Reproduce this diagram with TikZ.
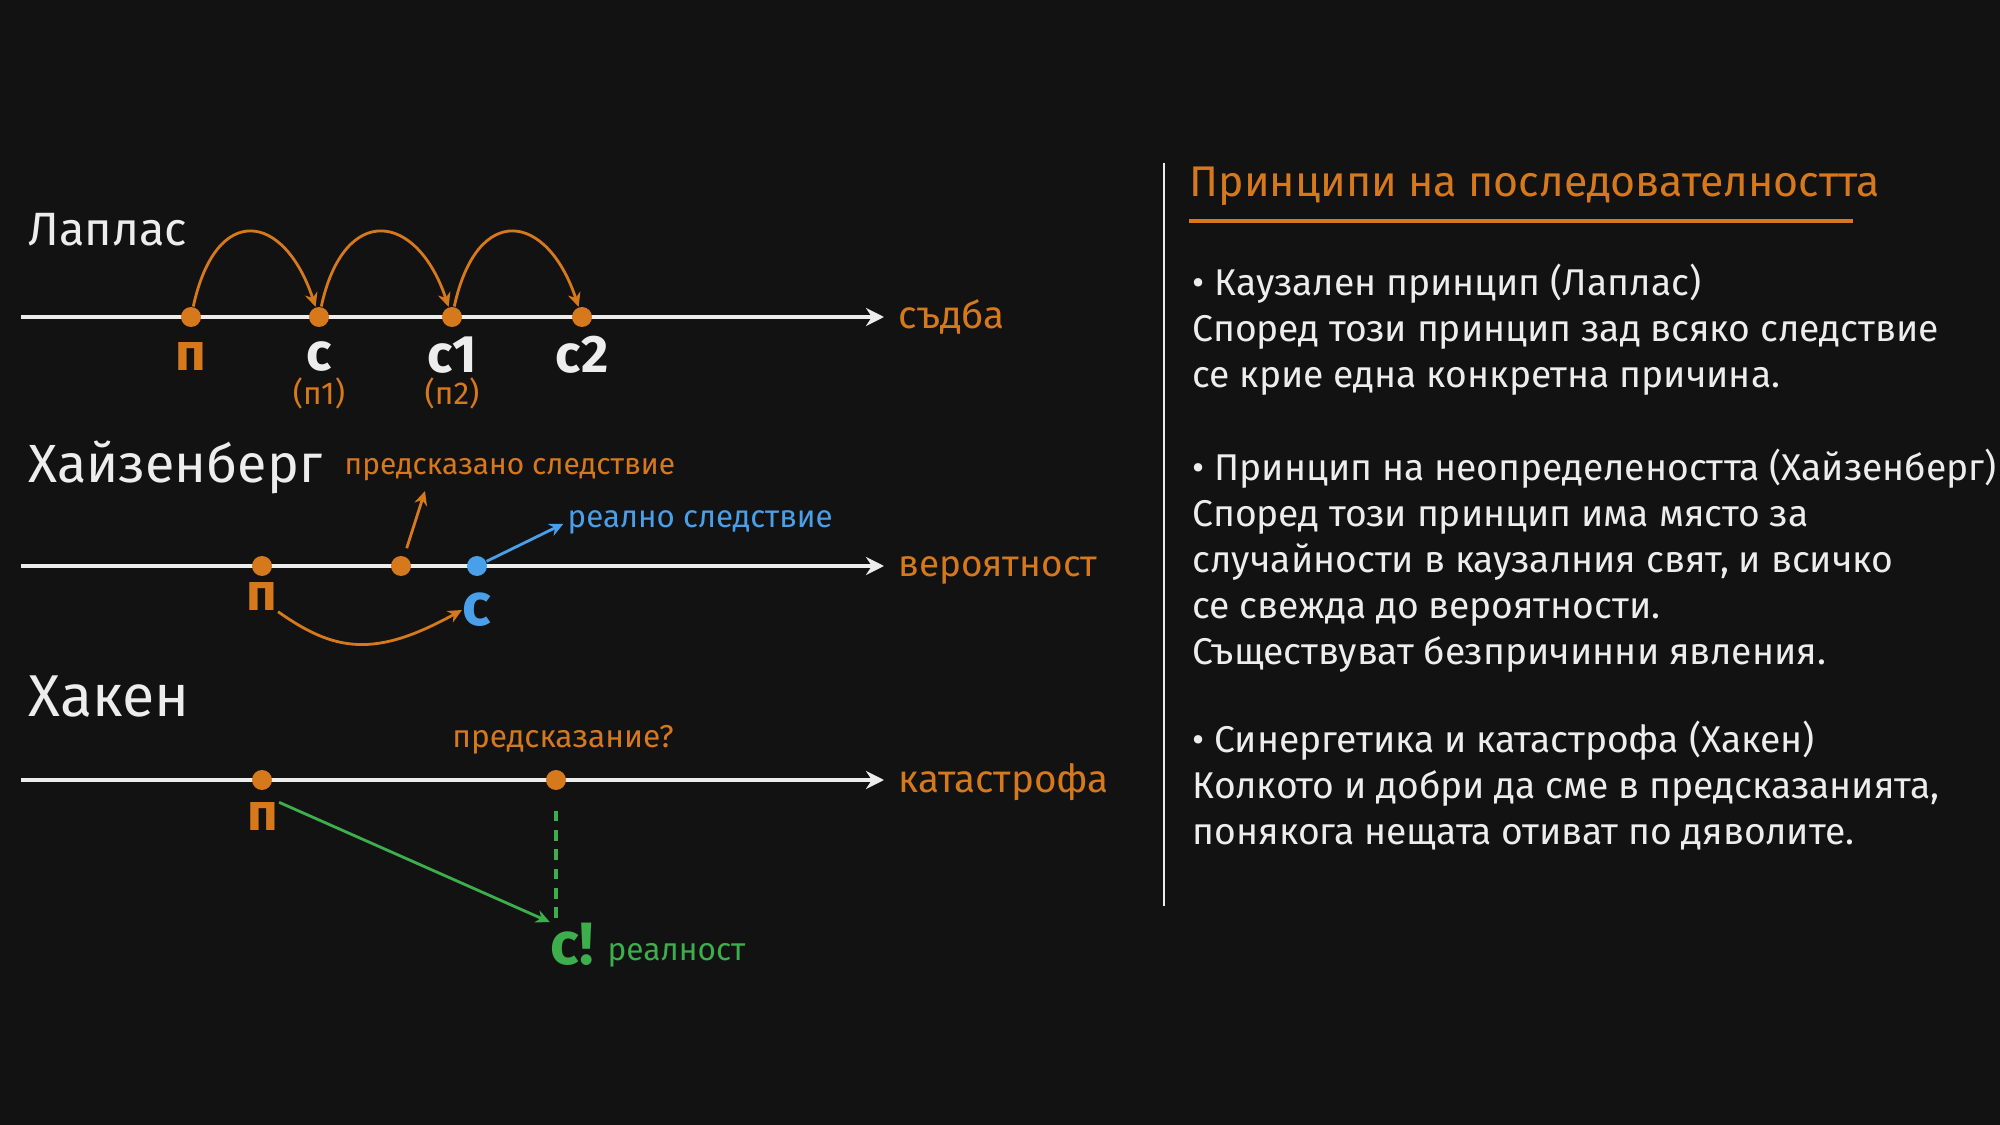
\documentclass[tikz,border=0pt]{standalone}
\usepackage{fontspec}
\setmainfont{Fira Sans}
\usetikzlibrary{arrows.meta, positioning}
\definecolor{bgdark}{HTML}{121212}
\definecolor{lorange}{HTML}{D6791C}
\definecolor{lblue}{HTML}{4A9FEA}
\definecolor{lgreen}{HTML}{3DAE4C}
\definecolor{chalk}{HTML}{EDEDED}

\begin{document}
\begin{tikzpicture}[x=0.1mm, y=-0.1mm, >={Stealth[length=1.4mm, width=1.3mm]},
  odot/.style={circle, fill=lorange, inner sep=0pt, minimum size=2mm},
  bdot/.style={odot, fill=lblue},
  timeline/.style={draw=chalk, line width=1.1pt, -{Stealth[length=1.8mm, width=1.8mm]}},
  jump/.style={draw=lorange, line width=0.8pt, ->},
  ttl/.style={text=chalk, anchor=west, inner sep=0pt},
  ptlbl/.style={font=\fontsize{15}{18}\selectfont\bfseries, inner sep=0pt},
  note/.style={font=\fontsize{9}{11}\selectfont, anchor=west, inner sep=0pt},
  para/.style={text=chalk, align=left, anchor=north west, inner sep=0pt, font=\fontsize{10.6}{13.1}\selectfont}]
\useasboundingbox (0,0) rectangle (2000,1125);
\fill[bgdark] (0,0) rectangle (2000,1125);

% Laplace
\node[ttl, font=\fontsize{13.3}{16}\selectfont] (laplace) at (28,230) {Лаплас};
\coordinate (l0) at (21,317);
\coordinate (l1) at (884,317);
\draw[timeline] (l0) -- (l1);
\node[odot] (ln) at (191,317) {};
\node[odot] (lc) at (319,317) {};
\node[odot] (lc1) at (452,317) {};
\node[odot] (lc2) at (582,317) {};
\foreach \a/\b in {ln/lc, lc/lc1, lc1/lc2}
  \draw[jump] (\a) .. controls +(25,-115) and +(-35,-105) .. (\b);
\node[ptlbl, text=lorange] (lnl) at (191,357) {п};
\node[ptlbl, text=chalk] (lcl) at (319,357) {с};
\node[ptlbl, text=chalk] (lc1l) at (452,355) {с1};
\node[ptlbl, text=chalk] (lc2l) at (582,355) {с2};
\node[note, anchor=center, text=lorange] (n1l) at (319,393) {(п1)};
\node[note, anchor=center, text=lorange] (n2l) at (452,393) {(п2)};
\node[note, text=lorange, font=\fontsize{11}{13}\selectfont] (fate) at (898,317) {съдба};

% Heisenberg
\node[ttl, font=\fontsize{15.3}{18}\selectfont] (heis) at (28,467) {Хайзенберг};
\node[note, text=lorange, font=\fontsize{8.5}{10}\selectfont] (predl) at (344,470) {предсказано следствие};
\coordinate (h0) at (21,566);
\coordinate (h1) at (884,566);
\draw[timeline] (h0) -- (h1);
\node[odot] (hn) at (262,566) {};
\node[odot] (hq) at (401,566) {};
\node[bdot] (hc) at (477,566) {};
\coordinate (hqtip) at (425,491);
\draw[jump, shorten <=0.8mm] (hq) -- (hqtip);
\node[note, text=lblue, font=\fontsize{8.9}{10}\selectfont] (reall) at (567,522) {реално следствие};
\draw[draw=lblue, line width=0.8pt, ->, shorten >=0.4mm] (hc) -- (reall.west);
\node[ptlbl, text=lorange] (hnl) at (262,597) {п};
\node[ptlbl, text=lblue, font=\fontsize{17}{20}\selectfont\bfseries] (hcl) at (477,610) {с};
\draw[jump] (hnl.south east) .. controls (335,652) and (375,658) .. (hcl.west);
\node[note, text=lorange, font=\fontsize{10.5}{13}\selectfont] (prob) at (898,570) {вероятност};

% Haken
\node[ttl, font=\fontsize{16.8}{19}\selectfont] (haken) at (28,697) {Хакен};
\node[note, anchor=center, text=lorange] (predq) at (563,740) {предсказание?};
\coordinate (k0) at (21,780);
\coordinate (k1) at (884,780);
\draw[timeline] (k0) -- (k1);
\node[odot] (kn) at (262,780) {};
\node[odot] (kq) at (556,780) {};
\node[ptlbl, text=lorange] (knl) at (263,817) {п};
\node[ptlbl, text=lgreen, font=\fontsize{17}{20}\selectfont\bfseries] (kcl) at (572,944) {с!};
\node[note, text=lgreen] (realy) at (607,955) {реалност};
\draw[draw=lgreen, line width=0.8pt, ->] (knl.north east) -- (kcl.north west);
\draw[draw=lgreen, line width=1pt, dash pattern=on 3pt off 2.5pt, shorten <=2mm] (kq) -- (kq |- kcl.north);
\node[note, text=lorange, font=\fontsize{11}{13}\selectfont] (cat) at (898,782) {катастрофа};

% principles
\coordinate (s0) at (1164,163);
\coordinate (s1) at (1164,906);
\draw[chalk, line width=0.85pt] (s0) -- (s1);
\node[note, text=lorange, font=\fontsize{12.2}{15}\selectfont] (head) at (1189,186) {Принципи на последователността};
\coordinate (u0) at (1189,221);
\coordinate (u1) at (1853,221);
\draw[lorange, line width=0.9pt] (u0) -- (u1);
\node[para] (p1) at (1192,263) {• Каузален принцип (Лаплас)\\Според този принцип зад всяко следствие\\се крие една конкретна причина.};
\node[para] (p2) at (1192,448) {• Принцип на неопределеността (Хайзенберг)\\Според този принцип има място за\\случайности в каузалния свят, и всичко\\се свежда до вероятности.\\Съществуват безпричинни явления.};
\node[para] (p3) at (1192,720) {• Синергетика и катастрофа (Хакен)\\Колкото и добри да сме в предсказанията,\\понякога нещата отиват по дяволите.};
\end{tikzpicture}
\end{document}
